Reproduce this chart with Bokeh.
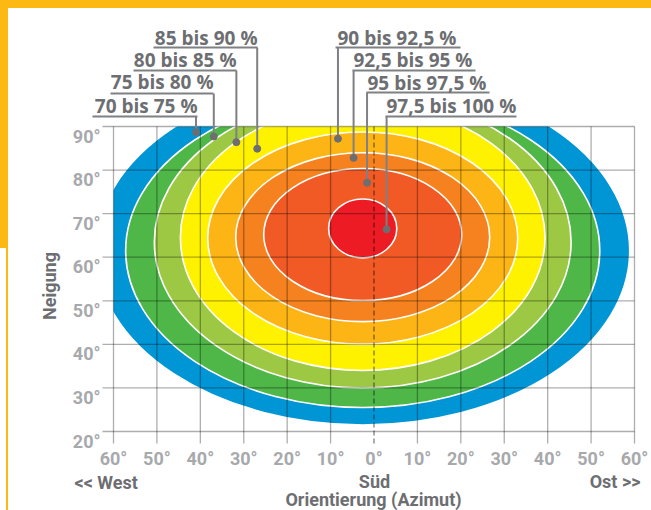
import math
from bokeh.plotting import figure
from bokeh.models import Range1d, GlobalInlineStyleSheet
from bokeh.core.properties import value
from bokeh.embed import file_html
from bokeh.resources import INLINE

# ---------------- data ----------------
bands = ["70 bis 75 %", "75 bis 80 %", "80 bis 85 %", "85 bis 90 %",
         "90 bis 92,5 %", "92,5 bis 95 %", "95 bis 97,5 %", "97,5 bis 100 %"]
colors = ["#0096D6", "#4EB748", "#9CC843", "#FFF200",
          "#FDB515", "#F5821F", "#F15A25", "#ED1C24"]
# ellipse centre (azimuth, inclination) and full extent per band, outermost first
center_az = [-2.6, -2.6, -2.6, -2.6, -2.6, -2.6, -2.6, -2.6]
center_inc = [61.5, 61.5, 63.5, 64.5, 64.4, 64.6, 65.2, 66.6]
width_az = [123.0, 109.2, 96.0, 84.0, 71.4, 58.5, 45.6, 15.7]
height_inc = [80.0, 72.0, 67.0, 61.0, 48.7, 38.8, 30.3, 13.5]
# callout marker points (azimuth, inclination)
marker_az = [-41.0, -36.9, -31.7, -26.9, -8.3, -4.7, -1.6, 2.9]
marker_inc = [88.7, 87.7, 86.4, 84.9, 87.2, 82.8, 77.1, 66.4]

x_ticks = [-60, -50, -40, -30, -20, -10, 0, 10, 20, 30, 40, 50, 60]
x_tick_labels = ["60°", "50°", "40°", "30°", "20°", "10°", "0°",
                 "10°", "20°", "30°", "40°", "50°", "60°"]
y_ticks = [20, 30, 40, 50, 60, 70, 80, 90]
y_tick_labels = ["20°", "30°", "40°", "50°", "60°", "70°", "80°", "90°"]

# ---------------- layout (canvas pixels) ----------------
W, H = 651, 510
L, R, T, B = 113, 634, 126, 431          # chart area
AZ0, AZ1, IN0, IN1 = -60, 60, 20, 90     # its axis limits
kx = (R - L) / (AZ1 - AZ0)
ky = (B - T) / (IN1 - IN0)


def X(px):
    return AZ0 + (px - L) / kx


def Y(py):
    return IN0 + (B - py) / ky


SHIFT18 = 7.5   # rendered baseline sits this much lower than requested
SHIFT19 = 8.0
TICK_OUT = 11
# callout layout
call_align = ["right", "right", "right", "right", "left", "left", "left", "left"]
call_text_px = [197, 213, 236, 257, 337, 353, 367, 386]
call_base_py = [113, 89.5, 67, 45, 45, 67.5, 90, 113]
call_line_py = [116, 93, 70, 47, 47, 70, 92, 116]
call_line_px0 = [92, 110, 133, 153, 335, 352, 366, 385]
call_line_px1 = [197, 213, 236, 257, 460, 475, 489, 516]

TEXT = "#6D6E71"
TICK = "#A7A9AC"
LEAD = "#7F8083"

p = figure(width=W, height=H, x_range=Range1d(X(0), X(W)), y_range=Range1d(Y(H), Y(0)),
           output_backend="svg", toolbar_location=None, title=None,
           x_axis_location=None, y_axis_location=None, min_border=0)
p.outline_line_color = None
p.background_fill_color = None
p.border_fill_color = None
for g in p.grid:
    g.visible = False

# coloured zones
p.ellipse(x=center_az, y=center_inc, width=width_az, height=height_inc,
          fill_color=colors, line_color="white", line_width=1.6)
# clip zones to the chart area
p.quad(left=X(L) - 8, right=AZ0, bottom=IN0, top=IN1 + 1, fill_color="white", line_color=None)
p.quad(left=X(L) - 8, right=AZ1, bottom=IN1, top=IN1 + 16, fill_color="white", line_color=None)

# grid (with outward tick extensions)
xg = [t for t in x_ticks if t != 0]
p.segment(x0=xg, y0=[Y(B + TICK_OUT + 1)] * len(xg), x1=xg, y1=[IN1] * len(xg),
          line_color="black", line_alpha=0.32, line_width=1.3)
p.segment(x0=[X(L - TICK_OUT)] * len(y_ticks), y0=y_ticks, x1=[AZ1] * len(y_ticks), y1=y_ticks,
          line_color="black", line_alpha=0.32, line_width=1.3)
p.segment(x0=[0], y0=[Y(B + TICK_OUT + 1)], x1=[0], y1=[IN1],
          line_color="black", line_alpha=0.5, line_width=1.3, line_dash="5 3")

# tick labels
p.text(x=x_ticks, y=[IN0 - (34 - SHIFT18) / ky] * len(x_ticks), text=x_tick_labels,
       text_font=value("Roboto"), text_font_style="bold", text_font_size="18px",
       text_color=TICK, text_align="center", text_baseline="alphabetic")
p.text(x=[X(100)] * len(y_ticks), y=[t - (17 - SHIFT18) / ky for t in y_ticks], text=y_tick_labels,
       text_font=value("Roboto"), text_font_style="bold", text_font_size="18px",
       text_color=TICK, text_align="right", text_baseline="alphabetic")

# callouts
p.segment(x0=[X(v) for v in call_line_px0], y0=[Y(v) for v in call_line_py],
          x1=[X(v) for v in call_line_px1], y1=[Y(v) for v in call_line_py],
          line_color=LEAD, line_width=2)
p.segment(x0=marker_az, y0=[Y(v) for v in call_line_py], x1=marker_az, y1=marker_inc,
          line_color=LEAD, line_width=2)
p.scatter(marker_az, marker_inc, size=7, color=TEXT)
for al in ("right", "left"):
    idx = [i for i, a in enumerate(call_align) if a == al]
    p.text(x=[X(call_text_px[i]) for i in idx], y=[Y(call_base_py[i] - SHIFT19) for i in idx],
           text=[bands[i] for i in idx], text_font=value("Open Sans"),
           text_font_style="bold", text_font_size="19px", text_color=TEXT,
           text_align=al, text_baseline="alphabetic")


# axis titles
def title(text, px, py, align="center", angle=0.0):
    p.text(x=[X(px)], y=[Y(py)], text=[text], angle=angle, text_font=value("Roboto"),
           text_font_style="bold", text_font_size="18px", text_color=TEXT,
           text_align=align, text_baseline="alphabetic")


title("<< West", 74, 489 - SHIFT18, align="left")
title("Ost >>", 640, 488 - SHIFT18, align="right")
title("Süd", 374, 488 - SHIFT18)
title("Orientierung (Azimut)", 373, 506.5 - SHIFT18)
title("Neigung", 56 - SHIFT18, 285.5, angle=math.pi / 2)

p.stylesheets = [GlobalInlineStyleSheet(css=(
    "html{background:"
    "linear-gradient(#FDB913,#FDB913) 0 0/100% 8px no-repeat,"
    "linear-gradient(#FDB913,#FDB913) 0 0/8px 248px no-repeat,"
    "linear-gradient(#FDB913,#FDB913) 6px 0/2px 100% no-repeat,#ffffff;}"))]

open("out.html", "w").write(file_html(p, INLINE))
